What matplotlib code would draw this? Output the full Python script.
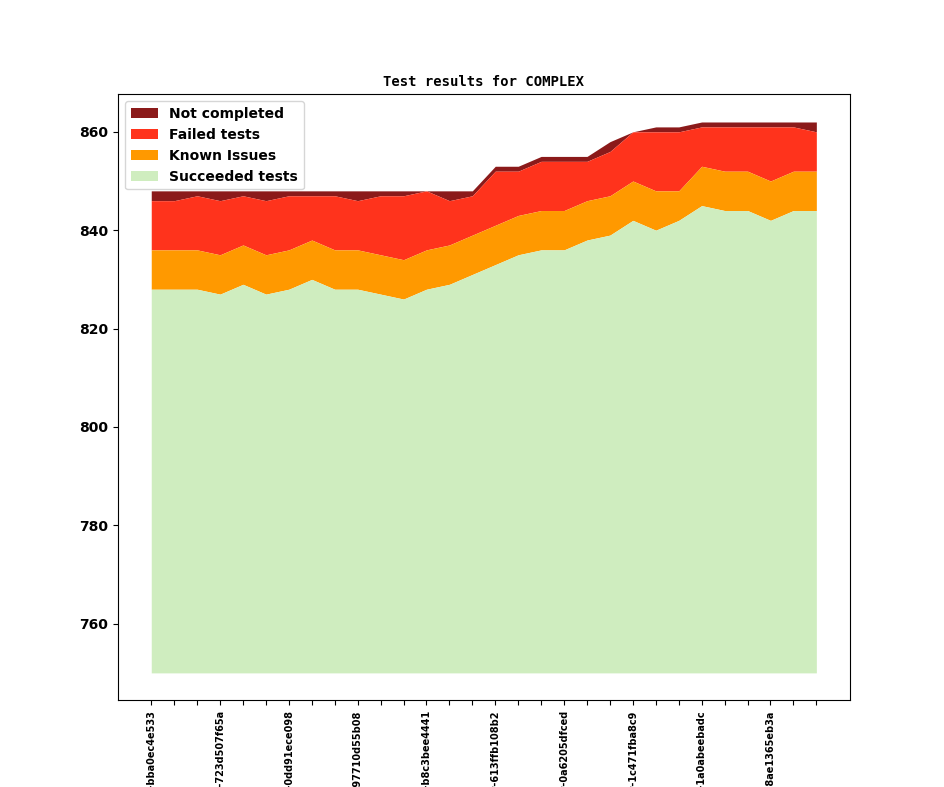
import matplotlib
matplotlib.use('Agg')
import matplotlib.pyplot as plt
import numpy as np

# cumulative tops of each band, one value per commit
succeeded = [828, 828, 828, 827, 829, 827, 828, 830, 828, 828, 827, 826, 828, 829, 831,
             833, 835, 836, 836, 838, 839, 842, 840, 842, 845, 844, 844, 842, 844, 844]
known = [836, 836, 836, 835, 837, 835, 836, 838, 836, 836, 835, 834, 836, 837, 839,
         841, 843, 844, 844, 846, 847, 850, 848, 848, 853, 852, 852, 850, 852, 852]
failed = [846, 846, 847, 846, 847, 846, 847, 847, 847, 846, 847, 847, 848, 846, 847,
          852, 852, 854, 854, 854, 856, 860, 860, 860, 861, 861, 861, 861, 861, 860]
total = [848] * 15 + [853, 853, 855, 855, 855, 858, 860, 861, 861, 862, 862, 862, 862, 862, 862]
baseline = 750

tick_labels = ['master-bba0ec4e533', 'master-723d507f65a', 'master-0dd91ece098',
               'master-97710d55b08', 'master-b8c3bee4441', 'master-613ffb108b2',
               'master-0a6205dfced', 'master-1c471fba8c9', 'master-1a0abeebadc',
               'master-8ae1365eb3a']

x = np.arange(len(total))
fig = plt.figure(figsize=(9.44, 7.87), dpi=100)
ax = fig.add_axes([0.125, 0.11, 0.775, 0.77])

ax.fill_between(x, failed, total, color='#8b1a1a', linewidth=0, label='Not completed')
ax.fill_between(x, known, failed, color='#ff331c', linewidth=0, label='Failed tests')
ax.fill_between(x, succeeded, known, color='#ff9900', linewidth=0, label='Known Issues')
ax.fill_between(x, baseline, succeeded, color='#cfedbf', linewidth=0, label='Succeeded tests')

ax.set_xticks(x)
labels = [''] * len(x)
for i, lab in enumerate(tick_labels):
    labels[i * 3] = lab
ax.set_xticklabels(labels, rotation=90, fontsize=7, fontweight='bold')
ax.set_yticks([760, 780, 800, 820, 840, 860])
for t in ax.get_yticklabels():
    t.set_fontweight('bold')
ax.set_title('Test results for COMPLEX', fontsize=10, fontweight='bold', family='DejaVu Sans Mono')
leg = ax.legend(loc='upper left', prop={'weight': 'bold', 'size': 10})

fig.savefig('out.png', dpi=100)
